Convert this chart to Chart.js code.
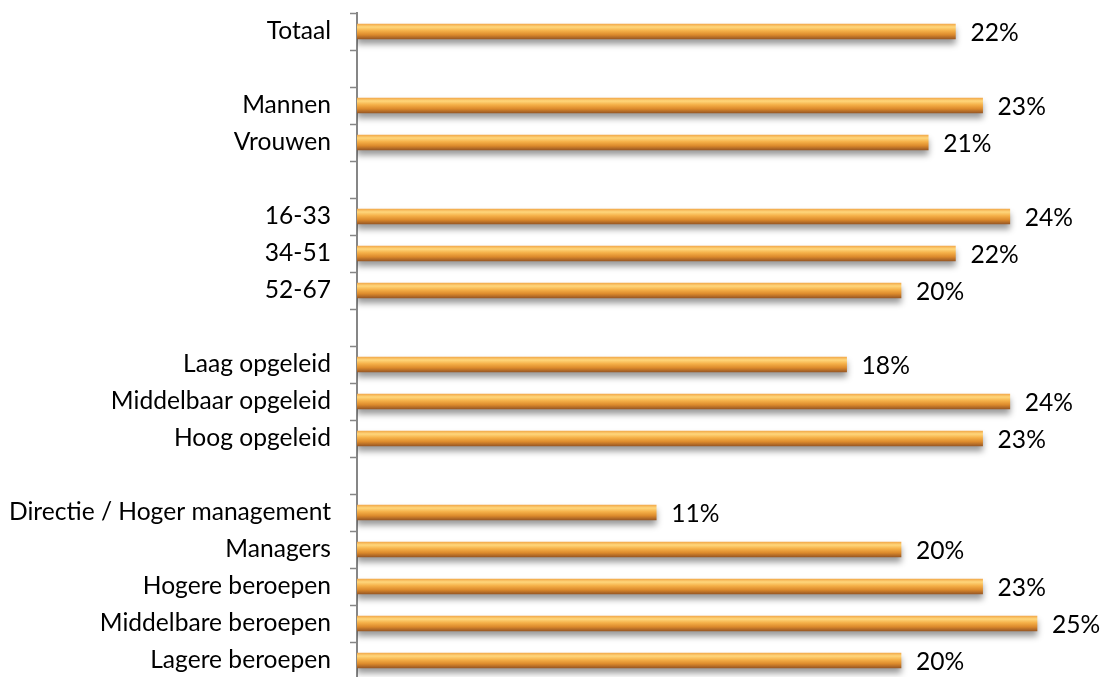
<!DOCTYPE html>
<html>
<head>
<meta charset="utf-8">
<script src="https://cdn.jsdelivr.net/npm/chart.js@4"></script>
<style>
    html, body { margin: 0; padding: 0; background: #fff; overflow: hidden; }
    #wrap { width: 1105px; height: 682px; position: relative; }
</style>
</head>
<body>
<div id="wrap"><canvas id="chart"></canvas></div>
<script>
const categories = [
    'Totaal', '',
    'Mannen', 'Vrouwen', '',
    '16-33', '34-51', '52-67', '',
    'Laag opgeleid', 'Middelbaar opgeleid', 'Hoog opgeleid', '',
    'Directie / Hoger management', 'Managers', 'Hogere beroepen', 'Middelbare beroepen', 'Lagere beroepen'
];
const percentages = [
    22, null,
    23, 21, null,
    24, 22, 20, null,
    18, 24, 23, null,
    11, 20, 23, 25, 20
];

const fontFamily = 'Lato, "Open Sans", sans-serif';
const fontSize = 24.6;
const barHeight = 15;

// vertical "tube" gradient, built per bar from the category scale
function barFill(c) {
    const yScale = c.chart.scales.y;
    if (!yScale || c.dataIndex == null) return '#F0A040';
    const mid = yScale.getPixelForValue(c.dataIndex);
    if (!isFinite(mid)) return '#F0A040';
    const top = mid - barHeight / 2;
    const g = c.chart.ctx.createLinearGradient(0, top, 0, top + barHeight);
    g.addColorStop(0, '#F2A94A');
    g.addColorStop(0.2, '#FFD77C');
    g.addColorStop(0.45, '#F5B048');
    g.addColorStop(0.72, '#DC8A2C');
    g.addColorStop(1, '#995824');
    return g;
}

const barShadow = {
    id: 'barShadow',
    beforeDatasetDraw(chart) {
        const ctx = chart.ctx;
        ctx.save();
        ctx.shadowColor = 'rgba(0,0,0,0.4)';
        ctx.shadowBlur = 6;
        ctx.shadowOffsetY = 5;
    },
    afterDatasetDraw(chart) {
        chart.ctx.restore();
    }
};

const valueLabels = {
    id: 'valueLabels',
    afterDatasetsDraw(chart) {
        const ctx = chart.ctx;
        ctx.save();
        ctx.font = `${fontSize}px ${fontFamily}`;
        ctx.fillStyle = '#000';
        ctx.textBaseline = 'middle';
        ctx.textAlign = 'left';
        chart.getDatasetMeta(0).data.forEach((bar, i) => {
            if (percentages[i] == null) return;
            ctx.fillText(percentages[i] + '%', bar.x + 15, bar.y + 2);
        });
        ctx.restore();
    }
};

new Chart(document.getElementById('chart'), {
    type: 'bar',
    data: {
        labels: categories,
        datasets: [{
            data: percentages,
            backgroundColor: barFill,
            barThickness: barHeight,
            borderWidth: 0
        }]
    },
    options: {
        indexAxis: 'y',
        responsive: true,
        maintainAspectRatio: false,
        animation: false,
        layout: { padding: { top: 13, bottom: 3, left: 0, right: 0 } },
        plugins: {
            legend: { display: false },
            tooltip: { enabled: false }
        },
        scales: {
            x: {
                display: false,
                min: 0,
                max: 27.5
            },
            y: {
                afterFit(scale) {
                    scale.width = 357;
                    scale.paddingTop = 0;
                    scale.paddingBottom = 0;
                },
                border: { color: '#868686', width: 2 },
                grid: {
                    offset: true,
                    drawOnChartArea: false,
                    tickLength: 7,
                    tickWidth: 1.5,
                    color: '#868686'
                },
                ticks: {
                    padding: 19,
                    color: '#000',
                    autoSkip: false,
                    font: { family: fontFamily, size: fontSize }
                }
            }
        }
    },
    plugins: [barShadow, valueLabels]
});
</script>
</body>
</html>
